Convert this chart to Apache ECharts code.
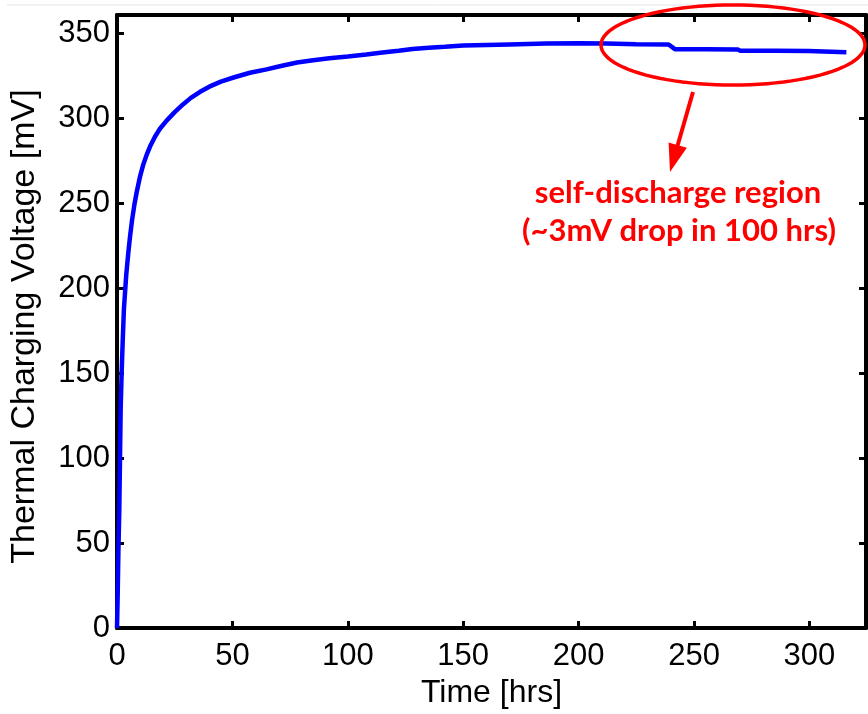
<!DOCTYPE html>
<html>
<head>
<meta charset="utf-8">
<script src="https://cdn.jsdelivr.net/npm/echarts@6/dist/echarts.min.js"></script>
<style>
html,body{margin:0;padding:0;background:#fff;}
#chart{width:868px;height:714px;}
</style>
</head>
<body>
<div id="chart"></div>
<script>
// ---- data ----
var timeHrs = [0, 0.3, 0.6, 1.0, 1.3, 1.6, 2.0, 2.5, 3.0, 3.5, 4.0, 4.9, 5.6, 6.5, 7.5, 8.5, 10, 11.4, 12.8, 14.3, 16.5, 18.6, 21.5, 25, 28.7, 32, 36, 40, 45, 50.5, 57.6, 64.8, 71, 78, 85, 92, 100, 108, 115, 122, 128, 135, 142, 150, 160, 170, 186, 200, 212, 225, 239, 241.7, 255, 269, 270, 285, 299.5, 300, 316];
var voltageMv = [0, 20, 45, 70, 100, 130, 150, 170, 188, 198, 208, 221, 230, 240, 249, 256.5, 266, 273, 278.5, 283.5, 289.5, 294, 298.8, 303.8, 308.5, 312.2, 315.8, 318.8, 321.8, 324.2, 327, 329, 331, 333, 334.3, 335.5, 336.6, 337.8, 338.9, 340, 341, 341.7, 342.3, 343, 343.4, 343.7, 344.2, 344.3, 344.2, 343.8, 343.6, 340.9, 340.8, 340.7, 340.0, 339.9, 339.8, 339.1, 339.1];
var xTicks = [0, 50, 100, 150, 200, 250, 300];
var yTicks = [0, 50, 100, 150, 200, 250, 300, 350];
var xMax = 324.5, yMax = 361;
var annotationLines = ['self-discharge region', '(~3mV drop in 100 hrs)'];

var seriesData = timeHrs.map(function (t, i) { return [t, voltageMv[i]]; });

var chart = echarts.init(document.getElementById('chart'), null, {renderer: 'canvas'});
var tickFont = {fontFamily: 'Liberation Sans, Arial, Helvetica, sans-serif', fontSize: 31, color: '#000'};
function labelFmt(list) {
  return function (v) { return list.indexOf(v) >= 0 ? String(v) : ''; };
}
var axisLineStyle = {color: '#000', width: 4};
var tickStyle = {show: true, inside: true, length: 7, lineStyle: {color: '#000', width: 3}};

var option = {
  backgroundColor: '#fff',
  animation: false,
  grid: {left: 117, right: 2, top: 15, bottom: 81, containLabel: false},
  xAxis: [{
    type: 'value', min: 0, max: xMax, interval: 50, position: 'bottom',
    name: 'Time [hrs]', nameLocation: 'middle', nameGap: 47,
    nameTextStyle: {fontFamily: tickFont.fontFamily, fontSize: 32, color: '#000'},
    axisLine: {show: true, onZero: false, lineStyle: axisLineStyle},
    axisTick: tickStyle,
    axisLabel: Object.assign({margin: 13, showMaxLabel: false, formatter: labelFmt(xTicks)}, tickFont),
    splitLine: {show: false}
  }, {
    type: 'value', min: 0, max: xMax, interval: 50, position: 'top',
    axisLine: {show: true, onZero: false, lineStyle: axisLineStyle},
    axisTick: tickStyle, axisLabel: {show: false}, splitLine: {show: false}
  }],
  yAxis: [{
    type: 'value', min: 0, max: yMax, interval: 50, position: 'left',
    name: 'Thermal Charging Voltage [mV]', nameLocation: 'middle', nameGap: 75, nameRotate: 90,
    nameTextStyle: {fontFamily: tickFont.fontFamily, fontSize: 34, color: '#000', padding: [0, 10, 0, 0]},
    axisLine: {show: true, onZero: false, lineStyle: axisLineStyle},
    axisTick: tickStyle,
    axisLabel: Object.assign({margin: 7, showMaxLabel: false, formatter: labelFmt(yTicks)}, tickFont),
    splitLine: {show: false}
  }, {
    type: 'value', min: 0, max: yMax, interval: 50, position: 'right',
    axisLine: {show: true, onZero: false, lineStyle: axisLineStyle},
    axisTick: tickStyle, axisLabel: {show: false}, splitLine: {show: false}
  }],
  series: [{
    type: 'line', xAxisIndex: 0, yAxisIndex: 0,
    data: seriesData, showSymbol: false, smooth: false,
    lineStyle: {color: '#0000ff', width: 4.5}, itemStyle: {color: '#0000ff'},
    z: 3
  }]
};
chart.setOption(option);

// ---- annotation (decoration) ----
var red = '#ff0000';
var cx = 733, cy = 45, rx = 132, ry = 40;
var ell = [];
for (var k = 0; k < 96; k++) {
  var a = k / 96 * Math.PI * 2;
  ell.push([cx + rx * Math.cos(a), cy + ry * Math.sin(a)]);
}
var start = [693, 92], tip = [670, 172];
var dx = tip[0] - start[0], dy = tip[1] - start[1], L = Math.sqrt(dx * dx + dy * dy);
var ux = dx / L, uy = dy / L, nx = -uy, ny = ux, hl = 28, hw = 9.5;
var base = [tip[0] - hl * ux, tip[1] - hl * uy];
var annFont = 'bold 31px Lato, "Open Sans", sans-serif';

chart.setOption({
  graphic: [
    {type: 'line', shape: {x1: 7, y1: 5, x2: 868, y2: 5}, style: {stroke: '#e4e4e4', lineWidth: 1}, z: 1},
    {type: 'polygon', shape: {points: ell}, style: {fill: 'none', stroke: red, lineWidth: 3.5}, z: 10},
    {type: 'line', shape: {x1: start[0], y1: start[1], x2: base[0] + 1.5 * ux, y2: base[1] + 1.5 * uy}, style: {stroke: red, lineWidth: 4}, z: 10},
    {type: 'polygon', shape: {points: [tip, [base[0] + hw * nx, base[1] + hw * ny], [base[0] - hw * nx, base[1] - hw * ny]]}, style: {fill: red}, z: 10},
    {type: 'text', x: 678, y: 193, style: {text: annotationLines[0], fill: red, font: annFont, textAlign: 'center', textVerticalAlign: 'middle'}, z: 10},
    {type: 'text', x: 679, y: 231, style: {text: annotationLines[1], fill: red, font: annFont, textAlign: 'center', textVerticalAlign: 'middle'}, z: 10}
  ]
});
</script>
</body>
</html>
